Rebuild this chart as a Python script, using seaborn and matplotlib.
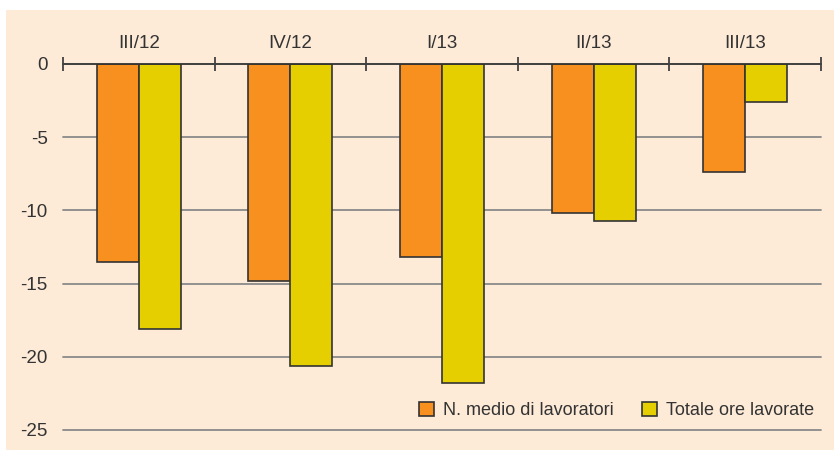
import pandas as pd
import seaborn as sns
import matplotlib.pyplot as plt
from matplotlib.patches import Rectangle
from matplotlib.ticker import FixedLocator

# data
quarters = ['III/12', 'IV/12', 'I/13', 'II/13', 'III/13']
lavoratori = [-13.5, -14.8, -13.2, -10.2, -7.4]
ore = [-18.1, -20.6, -21.8, -10.7, -2.6]
series = ['N. medio di lavoratori', 'Totale ore lavorate']
colors = ['#F7901E', '#E6CF00']
yticks = [0, -5, -10, -15, -20, -25]

df = pd.DataFrame({
    'quarter': quarters * 2,
    'value': lavoratori + ore,
    'series': [series[0]] * len(quarters) + [series[1]] * len(quarters),
})

sns.set_style('white')
plt.rcParams['font.family'] = ['Liberation Sans', 'DejaVu Sans']
bg = '#FDEAD7'

fig = plt.figure(figsize=(8.34, 4.5), dpi=100, facecolor='white')
fig.patches.append(Rectangle((6 / 834, 0), 1, 1 - 10 / 450, transform=fig.transFigure,
                             facecolor=bg, edgecolor='none', zorder=-10))
ax = fig.add_axes([63 / 834, 20 / 450, (821 - 63) / 834, (430 - 64) / 450])
ax.patch.set_alpha(0)

sns.barplot(data=df, x='quarter', y='value', hue='series', palette=colors,
            saturation=1, width=0.555, edgecolor='#333333', linewidth=1.2,
            ax=ax, zorder=3)

ax.set_ylim(-25, 0)
ax.set_xlim(-0.5, 4.5)
ax.set_yticks(yticks)
ax.set_yticklabels([str(v) for v in yticks])
ax.set_xlabel('')
ax.set_ylabel('')
ax.yaxis.grid(True, color='#8a8a8a', linewidth=1.3)
for gl in ax.yaxis.get_gridlines():
    gl.set_clip_on(False)
ax.set_axisbelow(True)
for s in ['left', 'right', 'bottom']:
    ax.spines[s].set_visible(False)
ax.spines['top'].set_color('#333333')
ax.spines['top'].set_linewidth(1.2)
ax.spines['top'].set_zorder(5)

ax.xaxis.set_ticks_position('top')
ax.xaxis.set_minor_locator(FixedLocator([-0.5, 0.5, 1.5, 2.5, 3.5, 4.5]))
ax.tick_params(axis='x', which='major', length=0, pad=9, labelsize=13.5, labelcolor='#333333')
ax.tick_params(axis='x', which='minor', length=10, width=1.2, direction='inout', color='#333333')
ax.tick_params(axis='y', length=0, pad=11, labelsize=13.5, labelcolor='#333333')

ax.legend(loc='lower right', bbox_to_anchor=(1.005, 0.0), ncol=2, frameon=False,
          fontsize=13, handlelength=0.8, handleheight=0.8, handletextpad=0.5,
          columnspacing=1.6, labelcolor='#333333', borderaxespad=0.2)

fig.savefig('out.png', dpi=100, facecolor='white')
